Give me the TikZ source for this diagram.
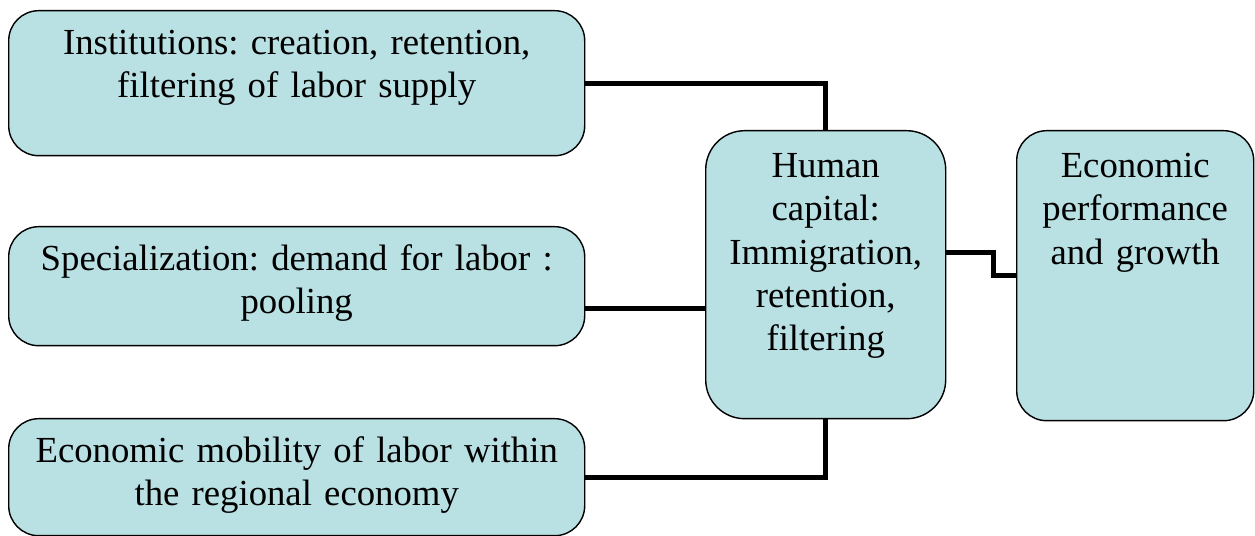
\documentclass[tikz,border=0pt]{standalone}
\usepackage{fontspec}
\setmainfont{Liberation Serif}
\definecolor{boxfill}{RGB}{185,224,227}
\frenchspacing
\begin{document}
\begin{tikzpicture}[box/.style={draw, line width=0.8pt, fill=boxfill, rounded corners=0.6cm, anchor=north west, align=center, inner xsep=0.2cm, inner ysep=0.33cm, text height=0.55cm, font=\fontsize{20.9}{24.6}\selectfont},
    link/.style={line width=2.8pt, line join=miter}]
    \useasboundingbox (0,0) rectangle (25.1,10.72);
    \node[box, text width=11.12cm, text depth=1.69cm] (inst) at (0.16,10.52) {Institutions: creation, retention,\\ filtering of labor supply};
    \node[box, text width=11.12cm, text depth=1.17cm] (spec) at (0.16,6.2) {Specialization: demand for labor :\\ pooling};
    \node[box, text width=11.12cm, text depth=1.13cm] (mob) at (0.16,2.36) {Economic mobility of labor within\\ the regional economy};
    \node[box, text width=4.4cm, text height=0.61cm, text depth=4.49cm, rounded corners=0.78cm] (human) at (14.1,8.12) {Human\\ capital:\\ Immigration,\\ retention,\\ filtering};
    \node[box, text width=4.34cm, text height=0.61cm, text depth=4.53cm] (perf) at (20.32,8.12) {Economic\\ performance\\ and growth};
    % connectors
    \draw[link] (inst.east) -| (human.north);
    \draw[link] ([yshift=-0.45cm]spec.east) -- ([yshift=-0.45cm]spec.east -| human.west);
    \draw[link] (human.south) |- (mob.east);
    \draw[link] ([yshift=0.44cm]human.east) -- ++(0.94,0) |- (perf.west);
\end{tikzpicture}
\end{document}
